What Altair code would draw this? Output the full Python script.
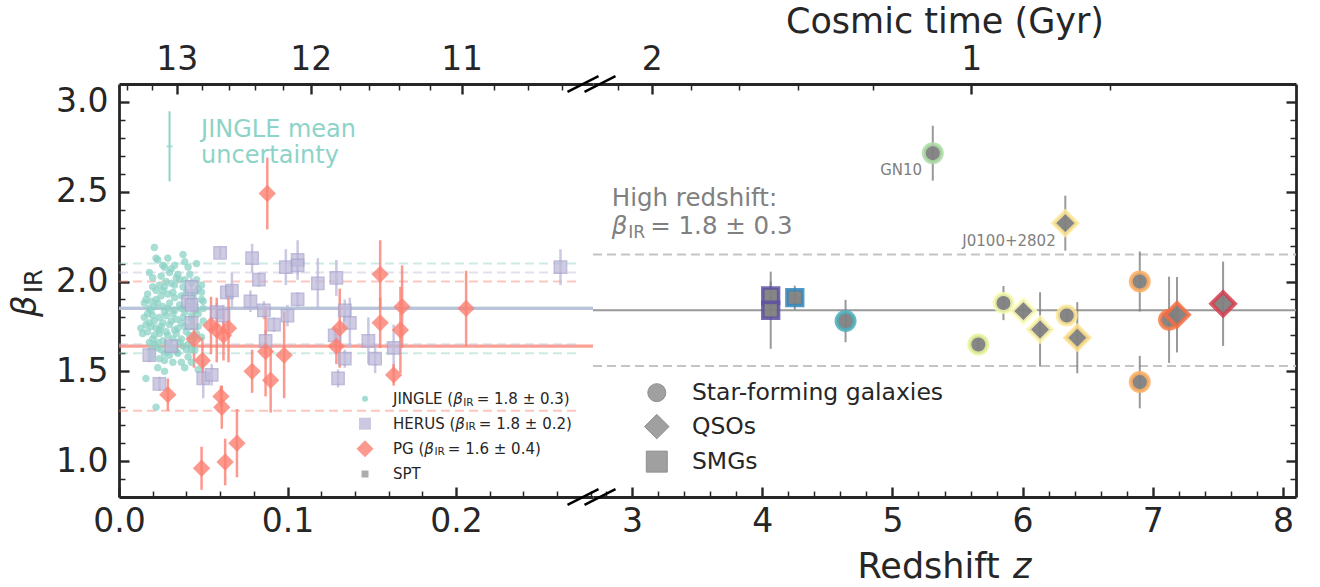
import numpy as np
import pandas as pd
import altair as alt

# ------------------------------------------------------------------
# Local samples (z < 0.3)
# ------------------------------------------------------------------
jingle_z = [
    0.021, 0.022, 0.023, 0.029, 0.038, 0.039, 0.033, 0.041, 0.046, 0.026, 0.031,
    0.020, 0.025, 0.028, 0.030, 0.035, 0.036, 0.039, 0.046, 0.024, 0.027, 0.033,
    0.043, 0.049, 0.049, 0.049, 0.050, 0.016, 0.015, 0.019, 0.022, 0.025, 0.029,
    0.032, 0.037, 0.040, 0.045, 0.021, 0.023, 0.026, 0.029, 0.033, 0.037, 0.045,
    0.050, 0.018, 0.017, 0.020, 0.024, 0.028, 0.034, 0.038, 0.043, 0.047, 0.013,
    0.016, 0.019, 0.022, 0.025, 0.030, 0.035, 0.039, 0.043, 0.047, 0.017, 0.021,
    0.024, 0.029, 0.034, 0.037, 0.042, 0.045, 0.018, 0.021, 0.023, 0.029, 0.033,
    0.038, 0.041, 0.019, 0.025, 0.027, 0.030, 0.034, 0.040, 0.043, 0.024, 0.027,
    0.037, 0.043, 0.023, 0.047, 0.016, 0.022,
    0.018, 0.027, 0.034, 0.042, 0.020, 0.031, 0.038, 0.047, 0.017, 0.026, 0.033,
    0.044, 0.022, 0.030, 0.036, 0.041, 0.019, 0.027, 0.032, 0.039, 0.046, 0.021,
    0.026, 0.031, 0.037, 0.043, 0.018, 0.024, 0.028, 0.033, 0.040, 0.046, 0.020,
    0.026, 0.032, 0.036, 0.043, 0.023, 0.029, 0.035, 0.041, 0.019, 0.032, 0.039,
    0.027, 0.045, 0.049, 0.015, 0.014, 0.050,
]
jingle_beta = [
    2.19, 2.13, 2.12, 2.13, 2.15, 2.11, 2.09, 2.08, 2.10, 2.09, 2.07,
    2.02, 2.03, 2.00, 2.05, 2.04, 2.01, 2.01, 2.01, 1.98, 1.97, 1.98,
    1.99, 1.98, 1.94, 1.90, 1.89, 1.90, 1.88, 1.89, 1.95, 1.92, 1.93,
    1.94, 1.92, 1.94, 1.94, 1.86, 1.88, 1.86, 1.85, 1.84, 1.85, 1.87,
    1.85, 1.85, 1.82, 1.81, 1.80, 1.81, 1.79, 1.80, 1.81, 1.82, 1.74,
    1.76, 1.75, 1.74, 1.75, 1.76, 1.74, 1.75, 1.75, 1.75, 1.72, 1.70,
    1.71, 1.70, 1.71, 1.68, 1.70, 1.69, 1.66, 1.65, 1.66, 1.65, 1.63,
    1.64, 1.65, 1.62, 1.62, 1.60, 1.59, 1.61, 1.62, 1.62, 1.57, 1.56,
    1.55, 1.55, 1.52, 1.51, 1.46, 1.30,
    2.05, 2.08, 2.02, 2.04, 1.97, 1.99, 1.97, 1.96, 1.93, 1.95, 1.91,
    1.91, 1.90, 1.88, 1.87, 1.86, 1.84, 1.83, 1.82, 1.83, 1.84, 1.78,
    1.77, 1.78, 1.77, 1.79, 1.77, 1.73, 1.72, 1.73, 1.72, 1.71, 1.68,
    1.67, 1.68, 1.66, 1.67, 1.63, 1.61, 1.60, 1.58, 1.58, 1.55, 1.52,
    1.50, 1.62, 1.69, 1.80, 1.71, 1.78,
]

herus_z = [0.060, 0.079, 0.083, 0.099, 0.106, 0.106, 0.118, 0.129, 0.106, 0.078,
           0.064, 0.067, 0.043, 0.041, 0.043, 0.043, 0.058, 0.062, 0.086, 0.092,
           0.100, 0.087, 0.031, 0.018, 0.024, 0.050, 0.055, 0.128, 0.134, 0.137,
           0.134, 0.130, 0.148, 0.152, 0.163, 0.262]
herus_beta = [2.16, 2.13, 2.01, 2.08, 2.12, 2.09, 1.99, 2.02, 1.90, 1.89,
              1.94, 1.95, 1.97, 1.89, 1.87, 1.77, 1.83, 1.81, 1.84, 1.76,
              1.81, 1.67, 1.64, 1.59, 1.43, 1.46, 1.48, 1.70, 1.84, 1.77,
              1.57, 1.46, 1.67, 1.57, 1.63, 2.08]
herus_err = [0.03, 0.08, 0.04, 0.10, 0.11, 0.05, 0.14, 0.10, 0.04, 0.06,
             0.04, 0.10, 0.05, 0.04, 0.04, 0.04, 0.05, 0.06, 0.05, 0.04,
             0.06, 0.06, 0.04, 0.04, 0.04, 0.11, 0.06, 0.05, 0.06, 0.14,
             0.05, 0.05, 0.13, 0.08, 0.13, 0.10]

pg_z = [0.029, 0.0445, 0.0495, 0.0546, 0.058, 0.062, 0.065, 0.0605, 0.061, 0.070,
        0.063, 0.049, 0.079, 0.087, 0.090, 0.098, 0.131, 0.129, 0.088, 0.155,
        0.155, 0.168, 0.167, 0.163, 0.206]
pg_beta = [1.37, 1.68, 1.56, 1.755, 1.73, 1.70, 1.74, 1.36, 1.30, 1.10,
           0.995, 0.96, 1.50, 1.61, 1.45, 1.59, 1.74, 1.64, 2.49, 2.04,
           1.77, 1.86, 1.73, 1.48, 1.85]
pg_err = [0.09, 0.16, 0.13, 0.16, 0.18, 0.14, 0.19, 0.06, 0.12, 0.19,
          0.13, 0.12, 0.12, 0.25, 0.18, 0.24, 0.22, 0.10, 0.20, 0.19,
          0.14, 0.23, 0.24, 0.06, 0.21]

# sample means and spreads
low_names = ["JINGLE", "HERUS", "PG"]
low_mean = [1.85, 1.85, 1.64]
low_spread = [0.25, 0.20, 0.36]

# JINGLE mean uncertainty
jingle_unc_z, jingle_unc_beta, jingle_unc_err = 0.030, 2.753, 0.195

# ------------------------------------------------------------------
# High-redshift sources
# ------------------------------------------------------------------
hiz_type = ["SMG", "SMG", "SMG", "SFG", "SFG", "SFG", "SFG", "QSO", "QSO",
            "SFG", "QSO", "QSO", "SFG", "SFG", "SFG", "QSO", "QSO"]
hiz_z = [4.065, 4.065, 4.25, 4.64, 5.31, 5.66, 5.853, 6.006, 6.134,
         6.339, 6.328, 6.42, 6.90, 6.90, 7.125, 7.186, 7.54]
hiz_beta = [1.92, 1.84, 1.91, 1.78, 2.715, 1.649, 1.88, 1.835, 1.733,
            1.811, 2.325, 1.687, 2.00, 1.44, 1.787, 1.815, 1.876]
hiz_err = [0.08, 0.215, 0.067, 0.118, 0.153, 0.04, 0.095, 0.03, 0.207,
           0.04, 0.153, 0.198, 0.167, 0.146, 0.24, 0.21, 0.235]

hiz_mean, hiz_spread = 1.84, 0.31

named_src = ["GN10", "J0100+2802"]
named_z = [5.228, 6.254]
named_beta = [2.622, 2.227]

# ------------------------------------------------------------------
# Styling
# ------------------------------------------------------------------
INK = "#262626"
FONT = "DejaVu Sans"
TEAL, LAV, SALMON, GREY = "#8dd3c7", "#bebada", "#fb8072", "#808080"
TICK_FS, TITLE_FS = 33, 35

Z_LO = [0.0, 0.2813]
Z_HI = [2.7, 8.1]
B_RANGE = [0.8, 3.1]
W_LO, W_HI, H = 474, 703, 413

sx_lo = alt.Scale(domain=Z_LO, nice=False, zero=False)
sx_hi = alt.Scale(domain=Z_HI, nice=False, zero=False)
sy = alt.Scale(domain=B_RANGE, nice=False, zero=False)

# cosmic time for a flat LCDM model (H0 = 70, Om = 0.3)
HUBBLE_TIME = 977.8 / 70.0
OM, OL = 0.3, 0.7
PREF = 2.0 / (3.0 * np.sqrt(OL)) * HUBBLE_TIME
KAPPA = np.sqrt(OL / OM)


def z_at_age(t):
    return float((KAPPA / np.sinh(t / PREF)) ** (2.0 / 3.0) - 1.0)


AGE_EXPR = (
    "format({p:.6f}*log({k:.6f}*pow(1+datum.value,-1.5)"
    "+sqrt(pow({k:.6f}*pow(1+datum.value,-1.5),2)+1)),'.0f')"
).format(p=PREF, k=KAPPA)


def in_range(vals, rng):
    return [v for v in vals if rng[0] < v < rng[1]]


age_major_lo = [13, 12, 11]
age_major_hi = [2, 1]
age_minor_lo = [round(a, 1) for a in np.arange(10.2, 13.5, 0.2) if abs(a - round(a)) > 0.05]
age_minor_hi = [round(a, 1) for a in np.arange(0.6, 2.5, 0.2) if abs(a - round(a)) > 0.05]

top_major_lo = in_range([z_at_age(a) for a in age_major_lo], Z_LO)
top_minor_lo = in_range([z_at_age(a) for a in age_minor_lo], Z_LO)
top_major_hi = in_range([z_at_age(a) for a in age_major_hi], Z_HI)
top_minor_hi = in_range([z_at_age(a) for a in age_minor_hi], Z_HI)

bot_major_lo = [0.0, 0.1, 0.2]
bot_minor_lo = [round(v, 2) for v in np.arange(0.02, 0.29, 0.02) if abs(v * 10 - round(v * 10)) > 1e-6]
bot_major_hi = [3, 4, 5, 6, 7, 8]
bot_minor_hi = [round(v, 1) for v in np.arange(2.8, 8.01, 0.2) if abs(v - round(v)) > 1e-6]
y_major = [1.0, 1.5, 2.0, 2.5, 3.0]
y_minor = [round(v, 1) for v in np.arange(0.9, 3.01, 0.1) if abs(v * 2 - round(v * 2)) > 1e-6]

MAJ, MIN = (10, 2.4), (6, 1.5)


def main_axis(orient, values, **kw):
    opts = dict(orient=orient, values=values, ticks=False, domain=True, domainColor=INK,
                domainWidth=2.8, grid=False, labelFont=FONT, labelFontSize=TICK_FS,
                labelColor=INK, labelFlush=False, labelOverlap=False)
    opts.update(kw)
    return alt.Axis(**opts)


def tick_axis(orient, values, spec):
    size, width = spec
    return alt.Axis(orient=orient, values=values, ticks=True, tickSize=size, tickWidth=width,
                    tickColor=INK, offset=-size, domain=False, labels=False, grid=False)


EM = {' ': .318, '(': .390, ')': .390, '=': .838, '±': .838, '.': .318, ':': .337,
      '+': .838, '-': .361, 'β': .626,
      'A': .684, 'B': .686, 'C': .698, 'D': .770, 'E': .632, 'F': .575, 'G': .775,
      'H': .752, 'I': .295, 'J': .295, 'K': .656, 'L': .557, 'M': .863, 'N': .748,
      'O': .787, 'P': .603, 'Q': .787, 'R': .695, 'S': .635, 'T': .611, 'U': .732,
      'V': .684, 'W': .989, 'X': .685, 'Y': .611, 'Z': .685,
      'a': .613, 'b': .635, 'c': .550, 'd': .635, 'e': .615, 'f': .352, 'g': .635,
      'h': .634, 'i': .278, 'j': .278, 'k': .579, 'l': .278, 'm': .974, 'n': .634,
      'o': .612, 'p': .635, 'q': .635, 'r': .411, 's': .521, 't': .392, 'u': .634,
      'v': .592, 'w': .818, 'x': .592, 'y': .592, 'z': .525}


def em(s):
    return sum(EM.get(c, 0.636) for c in s)


def text_run(data, xenc, yenc, pieces, color, dx0=0.0, baseline="middle"):
    """Set (text, size, italic, dy, gap) pieces left to right as separate text marks."""
    layers, dx = [], dx0
    for text, size, italic, dy, gap in pieces:
        dx += gap
        layers.append(
            alt.Chart(data).mark_text(
                text=text, align="left", baseline=baseline, font=FONT, fontSize=size,
                fontStyle="italic" if italic else "normal", color=color, dx=dx, dy=dy,
            ).encode(x=xenc, y=yenc)
        )
        dx += em(text) * size
    return layers


def beta_pieces(size, rest):
    return [("β", size, True, 0, 0), ("IR", size * 0.7, False, size * 0.25, 0.05 * size),
            (rest, size, False, 0, 0.2 * size)]


# ------------------------------------------------------------------
# Data frames
# ------------------------------------------------------------------
jingle = pd.DataFrame({"z": jingle_z, "beta": jingle_beta})
herus = pd.DataFrame({"z": herus_z, "beta": herus_beta, "err": herus_err})
pg = pd.DataFrame({"z": pg_z, "beta": pg_beta, "err": pg_err})
hiz = pd.DataFrame({"type": hiz_type, "z": hiz_z, "beta": hiz_beta, "err": hiz_err})

solid_lo = pd.DataFrame({"name": low_names, "beta": low_mean,
                         "x0": Z_LO[0], "x1": Z_LO[1]})
dashed_lo = pd.DataFrame({
    "name": low_names * 2,
    "beta": [m + s for m, s in zip(low_mean, low_spread)] + [m - s for m, s in zip(low_mean, low_spread)],
    "x0": Z_LO[0], "x1": 0.274,
})
solid_hi = pd.DataFrame({"beta": [hiz_mean], "x0": Z_HI[0], "x1": Z_HI[1]})
dashed_hi = pd.DataFrame({"beta": [hiz_mean + hiz_spread, hiz_mean - hiz_spread],
                          "x0": Z_HI[0], "x1": Z_HI[1]})

name_color = alt.Scale(domain=low_names, range=[TEAL, LAV, SALMON])
name_width = alt.Scale(domain=low_names, range=[3.2, 3.2, 2.0])
z_color = alt.Scale(
    domain=[4.065, 4.25, 4.64, 5.31, 5.66, 6.0, 6.42, 6.9, 7.18, 7.54],
    range=["#5e4fa2", "#3288bd", "#4aaebb", "#abdda4", "#e6f598", "#ffffbf",
           "#fee08b", "#fdae61", "#f46d43", "#d53e4f"],
)
# marker shape, symbol area and ring width for each class of source
TYPE_STYLE = {"SFG": ("circle", 324, 4), "QSO": ("diamond", 560, 4), "SMG": ("square", 250, 3.5)}


def XL(field, axis=None):
    return alt.X(field, type="quantitative", scale=sx_lo, axis=axis, title=None)


def XH(field, axis=None):
    return alt.X(field, type="quantitative", scale=sx_hi, axis=axis, title=None)


def Y(field, axis=None):
    return alt.Y(field, type="quantitative", scale=sy, axis=axis, title=None)


# ------------------------------------------------------------------
# Low-redshift panel
# ------------------------------------------------------------------
lo_solid = alt.Chart(solid_lo).mark_rule(opacity=0.75).encode(
    x=XL("x0:Q", main_axis("bottom", bot_major_lo, format=".1f", labelPadding=8)),
    x2="x1:Q",
    y=Y("beta:Q", main_axis("left", y_major, format=".1f", labelPadding=11)),
    color=alt.Color("name:N", scale=name_color, legend=None),
    strokeWidth=alt.StrokeWidth("name:N", scale=name_width, legend=None),
)
lo_dashed = alt.Chart(dashed_lo).mark_rule(strokeWidth=2, opacity=0.45, strokeDash=[9, 5]).encode(
    x=XL("x0:Q", tick_axis("bottom", bot_major_lo, MAJ)),
    x2="x1:Q",
    y=Y("beta:Q", tick_axis("left", y_major, MAJ)),
    color=alt.Color("name:N", scale=name_color, legend=None),
)
herus_bars = alt.Chart(herus).transform_calculate(
    lo="datum.beta - datum.err", hi="datum.beta + datum.err"
).mark_rule(color=LAV, strokeWidth=2.5, opacity=0.8).encode(
    x=XL("z:Q", tick_axis("bottom", bot_minor_lo, MIN)),
    y=Y("lo:Q", tick_axis("left", y_minor, MIN)),
    y2="hi:Q",
)
pg_bars = alt.Chart(pg).transform_calculate(
    lo="datum.beta - datum.err", hi="datum.beta + datum.err"
).mark_rule(color=SALMON, strokeWidth=2.5, opacity=0.8).encode(
    x=XL("z:Q", main_axis("top", top_major_lo, labelExpr=AGE_EXPR, labelPadding=8)),
    y=Y("lo:Q"),
    y2="hi:Q",
)
jingle_pts = alt.Chart(jingle).mark_point(
    shape="circle", filled=True, size=44, color=TEAL, opacity=0.75, stroke=TEAL, strokeWidth=1
).encode(x=XL("z:Q", tick_axis("top", top_major_lo, MAJ)), y=Y("beta:Q"))
herus_pts = alt.Chart(herus).mark_point(
    shape="square", filled=True, size=150, color=LAV, opacity=0.75, stroke="#aaa6cf", strokeWidth=1.5
).encode(x=XL("z:Q", tick_axis("top", top_minor_lo, MIN)), y=Y("beta:Q"))
pg_pts = alt.Chart(pg).mark_point(
    shape="diamond", filled=True, size=300, color=SALMON, opacity=0.8
).encode(x=XL("z:Q"), y=Y("beta:Q"))

unc = pd.DataFrame({"z": [jingle_unc_z], "beta": [jingle_unc_beta], "err": [jingle_unc_err]})
unc_bar = alt.Chart(unc).transform_calculate(
    lo="datum.beta - datum.err", hi="datum.beta + datum.err"
).mark_rule(color=TEAL, strokeWidth=2).encode(x=XL("z:Q"), y=Y("lo:Q"), y2="hi:Q")
unc_dot = alt.Chart(unc).mark_tick(color=TEAL, thickness=2, size=6, orient="horizontal").encode(
    x=XL("z:Q"), y=Y("beta:Q"))
unc_text = alt.Chart(pd.DataFrame({
    "z": [0.0487, 0.0487], "beta": [2.845, 2.70], "t": ["JINGLE mean", "uncertainty"]
})).mark_text(align="left", baseline="middle", font=FONT, fontSize=24, color=TEAL).encode(
    x=XL("z:Q"), y=Y("beta:Q"), text="t:N")

# legend of the local samples
leg_lo_label = ["JINGLE", "HERUS", "PG", "SPT"]
leg_lo_stat = ["1.8 ± 0.3", "1.8 ± 0.2", "1.6 ± 0.4", ""]
leg_lo_beta = [1.347, 1.208, 1.069, 0.928]
leg_lo_shape = ["circle", "square", "diamond", "square"]
leg_lo_fill = [TEAL, LAV, SALMON, "#999999"]
leg_lo_size = [36, 144, 289, 49]
LEG_LO_MARK_Z, LEG_LO_TEXT_Z = 0.146, 0.1626

lo_legend = []
for lab, stat, yb, shp, col, sz in zip(leg_lo_label, leg_lo_stat, leg_lo_beta,
                                       leg_lo_shape, leg_lo_fill, leg_lo_size):
    row = pd.DataFrame({"mz": [LEG_LO_MARK_Z], "tz": [LEG_LO_TEXT_Z], "beta": [yb]})
    lo_legend.append(alt.Chart(row).mark_point(shape=shp, filled=True, size=sz, color=col,
                                               opacity=0.8).encode(x=XL("mz:Q"), y=Y("beta:Q")))
    if stat:
        pieces = [(lab + " (", 15, False, 0, 0)] + beta_pieces(15, "= " + stat + ")")
    else:
        pieces = [(lab, 15, False, 0, 0)]
    lo_legend += text_run(row, XL("tz:Q"), Y("beta:Q"), pieces, INK)

# y-axis title
anchor = pd.DataFrame({"a": [0]})
ytitle = [
    alt.Chart(anchor).mark_text(text="β", angle=270, align="left", baseline="alphabetic",
                                font=FONT, fontSize=34, fontStyle="italic", color=INK
                                ).encode(x=alt.value(-83), y=alt.value(233)),
    alt.Chart(anchor).mark_text(text="IR", angle=270, align="left", baseline="alphabetic",
                                font=FONT, fontSize=24, color=INK
                                ).encode(x=alt.value(-77), y=alt.value(209)),
]
# keeps the page origin fixed at the outer edge of the labels
spacer = alt.Chart(anchor).mark_rule(strokeOpacity=0).encode(
    x=alt.value(-119), x2=alt.value(-119), y=alt.value(-84), y2=alt.value(-83))

left = alt.layer(
    lo_solid, lo_dashed, herus_bars, pg_bars, jingle_pts, herus_pts, pg_pts,
    unc_bar, unc_dot, unc_text, *lo_legend, *ytitle, spacer,
).resolve_axis(x="independent", y="independent").properties(width=W_LO, height=H)

# ------------------------------------------------------------------
# High-redshift panel
# ------------------------------------------------------------------
hi_solid = alt.Chart(solid_hi).mark_rule(color="#999999", strokeWidth=2).encode(
    x=XH("x0:Q", main_axis("bottom", bot_major_hi, format="d", labelPadding=8)),
    x2="x1:Q",
    y=Y("beta:Q", main_axis("right", y_major, labels=False)),
)
hi_dashed = alt.Chart(dashed_hi).mark_rule(color="#c4c4c4", strokeWidth=2, strokeDash=[9, 5]).encode(
    x=XH("x0:Q", tick_axis("bottom", bot_major_hi, MAJ)),
    x2="x1:Q",
    y=Y("beta:Q", tick_axis("right", y_major, MAJ)),
)
hi_bars = alt.Chart(hiz).transform_calculate(
    lo="datum.beta - datum.err", hi="datum.beta + datum.err"
).mark_rule(color=GREY, strokeWidth=2, opacity=0.8).encode(
    x=XH("z:Q", tick_axis("bottom", bot_minor_hi, MIN)),
    y=Y("lo:Q", tick_axis("right", y_minor, MIN)),
    y2="hi:Q",
)
top_hi_axis = main_axis("top", top_major_hi, labelExpr=AGE_EXPR, labelPadding=8,
                        title="Cosmic time (Gyr)", titleFont=FONT, titleFontSize=TITLE_FS,
                        titleFontWeight="normal", titleColor=INK, titlePadding=4)
hi_pts = []
for i, (kind, (shp, sz, ring)) in enumerate(TYPE_STYLE.items()):
    hi_pts.append(
        alt.Chart(hiz).transform_filter(alt.datum.type == kind).mark_point(
            shape=shp, size=sz, filled=True, fill=GREY, fillOpacity=0.95,
            strokeWidth=ring, strokeOpacity=0.85,
        ).encode(
            x=XH("z:Q", top_hi_axis if i == 0 else None),
            y=Y("beta:Q"),
            stroke=alt.Stroke("z:Q", scale=z_color, legend=None),
        )
    )
hi_names = alt.Chart(pd.DataFrame({"z": named_z, "beta": named_beta, "t": named_src})).mark_text(
    align="right", baseline="middle", font=FONT, fontSize=15, color=GREY
).encode(x=XH("z:Q", tick_axis("top", top_major_hi, MAJ)), y=Y("beta:Q"), text="t:N")

note_row1 = pd.DataFrame({"z": [2.844], "beta": [2.46]})
note_row2 = pd.DataFrame({"z": [2.844], "beta": [2.303]})
hi_note = [alt.Chart(note_row1).mark_text(
    text="High redshift:", align="left", baseline="middle", font=FONT, fontSize=24.5, color=GREY
).encode(x=XH("z:Q", tick_axis("top", top_minor_hi, MIN)), y=Y("beta:Q"))]
hi_note += text_run(note_row2, XH("z:Q"), Y("beta:Q"), beta_pieces(24.5, "= 1.8 ± 0.3"), GREY)

leg_hi_label = ["Star-forming galaxies", "QSOs", "SMGs"]
leg_hi_type = ["SFG", "QSO", "SMG"]
leg_hi_beta = [1.381, 1.192, 0.997]
leg_hi_size = [324, 600, 440]
LEG_HI_MARK_Z, LEG_HI_TEXT_Z = 3.19, 3.46
hi_legend = []
for kind, lab, yb, sz in zip(leg_hi_type, leg_hi_label, leg_hi_beta, leg_hi_size):
    row = pd.DataFrame({"mz": [LEG_HI_MARK_Z], "tz": [LEG_HI_TEXT_Z], "beta": [yb], "t": [lab]})
    hi_legend.append(alt.Chart(row).mark_point(
        shape=TYPE_STYLE[kind][0], size=sz, filled=True, fill="#a0a0a0", stroke="#8f8f8f",
        strokeWidth=1, opacity=1).encode(x=XH("mz:Q"), y=Y("beta:Q")))
    hi_legend.append(alt.Chart(row).mark_text(
        align="left", baseline="middle", font=FONT, fontSize=23.5, color=INK
    ).encode(x=XH("tz:Q"), y=Y("beta:Q"), text="t:N"))

# redshift axis title with italic z
xt_size = TITLE_FS
xt_width = (em("Redshift ") + em("z")) * xt_size
xtitle = text_run(anchor, alt.value(W_HI / 2 - xt_width / 2), alt.value(H + 81),
                  [("Redshift ", xt_size, False, 0, 0), ("z", xt_size, True, 0, 0)], INK,
                  baseline="alphabetic")

# axis-break marks across the top and bottom spines
break_marks = []
for cx in (-10, 7):
    for cy in (0, H):
        break_marks.append(alt.Chart(anchor).mark_rule(color="black", strokeWidth=2.5).encode(
            x=alt.value(cx - 15.5), x2=alt.value(cx + 15.5),
            y=alt.value(cy + 7.8), y2=alt.value(cy - 7.8)))

right = alt.layer(
    hi_solid, hi_dashed, hi_bars, *hi_pts, hi_names, *hi_note, *hi_legend,
    *xtitle, *break_marks,
).resolve_axis(x="independent", y="independent").properties(width=W_HI, height=H)

chart = alt.hconcat(left, right, spacing=0, bounds="flush").properties(
    padding={"left": 0, "top": 0, "right": 10, "bottom": 0}, background="white"
).configure_view(stroke=None).configure_axis(grid=False)

chart.save("out.html", embed_options={"renderer": "svg", "actions": False})
